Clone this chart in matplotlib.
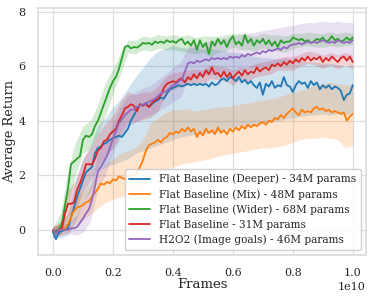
import numpy as np
import matplotlib
matplotlib.use("Agg")
import matplotlib.pyplot as plt
import seaborn as sns

sns.set_theme(style="whitegrid")
plt.rcParams['font.family'] = ['DejaVu Serif']

# x grid for mean curves (frames, in units of 1e10) step 0.01
frames = np.linspace(0.0, 1.0e10, 101)
# x grid for shaded bands, step 0.025
band_frames = np.linspace(0.0, 1.0e10, 41)

labels = ["Flat Baseline (Deeper) - 34M params",
          "Flat Baseline (Mix) - 48M params",
          "Flat Baseline (Wider) - 68M params",
          "Flat Baseline - 31M params",
          "H2O2 (Image goals) - 46M params"]

deeper = [-0.1, -0.35, -0.1, -0.05, 0.0, 0.05, 0.45, 0.8, 1.2, 1.5,
          1.8, 2.1, 2.2, 2.3, 2.8, 3.0, 3.05, 3.15, 3.2, 3.3,
          3.35, 3.4, 3.45, 3.4, 3.55, 3.7, 4.0, 4.2, 4.4, 4.6,
          4.55, 4.65, 4.5, 4.6, 4.7, 4.75, 4.85, 4.8, 5.0, 5.15,
          5.2, 5.25, 5.3, 5.25, 5.3, 5.35, 5.3, 5.35, 5.3, 5.35,
          5.3, 5.35, 5.25, 5.4, 5.3, 5.35, 5.5, 5.55, 5.45, 5.6,
          5.55, 5.45, 5.6, 5.4, 5.5, 5.35, 5.45, 5.3, 5.2, 5.4,
          4.95, 5.35, 5.25, 5.45, 5.2, 5.3, 5.25, 5.6, 5.3, 5.25,
          5.05, 5.3, 5.45, 5.35, 5.4, 5.2, 5.45, 5.3, 5.4, 5.15,
          5.3, 5.2, 5.3, 5.15, 5.25, 5.2, 5.1, 4.75, 4.95, 5.0, 5.3]

mix = [0.0, -0.1, 0.0, 0.0, 0.05, 0.2, 0.45, 0.7, 0.8, 0.85,
       0.9, 1.0, 1.05, 1.2, 1.35, 1.5, 1.7, 1.65, 1.75, 1.7,
       1.85, 1.8, 1.95, 1.9, 1.85, 2.0, 1.95, 2.0, 2.1, 2.3,
       2.55, 2.9, 3.1, 3.15, 3.2, 3.3, 3.2, 3.35, 3.4, 3.55,
       3.5, 3.6, 3.55, 3.7, 3.6, 3.75, 3.6, 3.7, 3.4, 3.6,
       3.45, 3.7, 3.55, 3.65, 3.5, 3.75, 3.55, 3.65, 3.5, 3.7,
       3.6, 3.75, 3.65, 3.8, 3.7, 3.85, 3.75, 3.85, 3.8, 3.9,
       3.95, 3.85, 4.0, 3.95, 4.1, 4.05, 4.2, 4.1, 4.25, 4.35,
       4.45, 4.3, 4.2, 4.4, 4.3, 4.35, 4.3, 4.45, 4.5, 4.4,
       4.45, 4.35, 4.4, 4.3, 4.35, 4.3, 4.25, 4.3, 4.0, 4.15, 4.25]

wider = [-0.1, -0.05, 0.0, 0.25, 0.9, 1.5, 2.4, 2.5, 2.6, 2.7,
         3.3, 3.45, 3.4, 3.5, 3.8, 4.0, 4.3, 4.6, 4.9, 5.2,
         5.45, 5.6, 5.9, 6.3, 6.7, 6.75, 6.65, 6.7, 6.68, 6.75,
         6.85, 6.82, 6.85, 6.78, 6.9, 6.85, 6.9, 6.85, 6.95, 6.88,
         6.92, 6.85, 6.95, 7.0, 6.8, 6.9, 6.75, 6.95, 6.6, 6.95,
         6.7, 6.85, 6.45, 6.9, 6.75, 7.0, 6.8, 6.95, 6.7, 6.95,
         7.1, 6.8, 6.9, 6.75, 7.15, 6.85, 7.0, 6.75, 6.95, 6.85,
         7.0, 6.8, 6.95, 6.75, 6.9, 6.7, 6.95, 6.85, 6.9, 6.9,
         7.05, 7.0, 6.95, 7.0, 6.9, 6.95, 6.85, 6.9, 7.0, 6.95,
         7.05, 6.9, 6.95, 7.1, 6.95, 7.0, 6.9, 6.95, 7.05, 6.95, 7.05]

flat = [-0.05, -0.1, 0.0, 0.05, 0.6, 0.95, 0.95, 1.0, 1.45, 1.7,
        2.0, 2.4, 2.4, 2.4, 2.6, 2.9, 3.0, 3.25, 3.3, 3.5,
        3.6, 3.7, 4.0, 4.2, 4.45, 4.5, 4.6, 4.55, 4.35, 4.6,
        4.55, 4.6, 4.5, 4.65, 4.75, 4.8, 4.95, 5.2, 5.35, 5.4,
        5.45, 5.4, 5.5, 5.55, 5.4, 5.6, 5.5, 5.7, 5.55, 5.75,
        5.6, 5.85, 5.7, 5.95, 5.7, 5.75, 5.6, 5.8, 5.6, 5.75,
        5.55, 5.7, 5.8, 5.65, 5.85, 5.7, 5.8, 5.75, 5.95, 5.8,
        5.9, 5.95, 5.85, 6.05, 6.0, 6.1, 6.0, 6.15, 6.05, 6.2,
        6.1, 6.25, 6.15, 6.3, 6.2, 6.35, 6.2, 6.3, 6.25, 6.35,
        6.15, 6.3, 6.2, 6.35, 6.25, 6.15, 6.3, 6.35, 6.2, 6.35, 6.15]

h2o2 = [0.0, -0.15, 0.0, 0.0, 0.0, 0.0, 0.05, 0.05, 0.1, 0.25,
        0.4, 0.6, 0.75, 1.1, 1.6, 2.15, 2.3, 2.5, 2.7, 3.0,
        3.35, 3.6, 3.9, 4.05, 4.2, 4.3, 4.4, 4.4, 4.5, 4.55,
        4.6, 4.6, 4.7, 4.75, 4.8, 4.9, 5.0, 5.05, 5.1, 5.2,
        5.3, 5.35, 5.45, 5.5, 5.8, 6.1, 6.15, 6.1, 6.2, 6.15,
        6.2, 6.25, 6.2, 6.3, 6.25, 6.3, 6.25, 6.3, 6.25, 6.35,
        6.3, 6.35, 6.3, 6.4, 6.35, 6.45, 6.4, 6.45, 6.5, 6.45,
        6.55, 6.5, 6.6, 6.55, 6.6, 6.65, 6.6, 6.7, 6.65, 6.75,
        6.8, 6.8, 6.85, 6.8, 6.85, 6.9, 6.85, 6.9, 6.85, 6.9,
        6.95, 6.9, 6.85, 6.9, 6.85, 6.95, 6.9, 6.85, 6.9, 6.85, 6.95]

deeper_lo = [-0.3, -0.3, -0.2, 0.3, 1.0, 1.4, 2.1, 2.3, 2.4, 2.5,
             2.6, 2.8, 2.9, 3.0, 3.1, 3.2, 3.3, 3.4, 3.45, 3.5,
             3.5, 3.55, 3.6, 3.7, 3.75, 3.8, 3.8, 3.85, 3.9, 3.95,
             4.0, 4.05, 4.1, 4.15, 4.2, 4.2, 4.25, 4.2, 4.25, 4.2, 4.3]
deeper_hi = [0.1, 0.2, 0.6, 1.8, 2.6, 3.1, 3.8, 4.1, 4.5, 4.8,
             5.2, 5.6, 5.95, 6.3, 6.55, 6.65, 6.75, 6.7, 6.65, 6.7,
             6.6, 6.65, 6.6, 6.55, 6.5, 6.5, 6.4, 6.35, 6.3, 6.3,
             6.25, 6.3, 6.2, 6.2, 6.15, 6.15, 6.1, 6.1, 6.05, 6.0, 6.05]

mix_lo = [-0.2, -0.2, -0.1, 0.2, 0.4, 0.55, 0.8, 1.0, 1.1, 1.2,
          1.3, 1.4, 1.6, 1.9, 2.1, 2.2, 2.3, 2.4, 2.45, 2.5,
          2.55, 2.6, 2.7, 2.75, 2.8, 2.85, 2.9, 2.95, 3.0, 3.0,
          3.05, 3.1, 3.2, 3.3, 3.35, 3.35, 3.4, 3.35, 3.3, 3.0, 3.1]
mix_hi = [0.15, 0.2, 0.6, 1.2, 1.4, 1.7, 2.1, 2.4, 2.6, 2.8,
          2.9, 3.0, 3.3, 3.9, 4.1, 4.3, 4.4, 4.4, 4.45, 4.35,
          4.4, 4.45, 4.5, 4.5, 4.55, 4.6, 4.65, 4.7, 4.75, 4.8,
          4.85, 4.95, 5.05, 5.1, 5.2, 5.3, 5.35, 5.4, 5.35, 5.3, 5.35]

wider_lo = [-0.3, -0.1, 0.9, 2.0, 2.8, 3.0, 3.5, 4.2, 5.0, 5.7,
            6.5, 6.45, 6.6, 6.55, 6.65, 6.6, 6.6, 6.55, 6.5, 6.45,
            6.5, 6.35, 6.5, 6.55, 6.7, 6.6, 6.6, 6.55, 6.65, 6.6,
            6.55, 6.5, 6.65, 6.7, 6.75, 6.7, 6.7, 6.75, 6.7, 6.75, 6.8]
wider_hi = [0.1, 0.6, 2.2, 3.2, 3.8, 4.0, 4.6, 5.4, 5.9, 6.5,
            6.95, 6.95, 7.1, 7.05, 7.15, 7.1, 7.15, 7.1, 7.15, 7.05,
            7.1, 7.1, 7.1, 7.15, 7.2, 7.2, 7.15, 7.1, 7.2, 7.15,
            7.15, 7.1, 7.2, 7.2, 7.25, 7.2, 7.2, 7.25, 7.2, 7.25, 7.2]

flat_lo = [-0.2, -0.2, 0.5, 0.7, 1.4, 1.8, 2.3, 2.7, 3.0, 3.5,
           3.95, 3.95, 4.05, 4.1, 4.35, 4.95, 5.15, 5.25, 5.35, 5.35,
           5.35, 5.55, 5.5, 5.45, 5.3, 5.5, 5.45, 5.6, 5.65, 5.7,
           5.85, 5.85, 5.85, 6.0, 6.1, 6.05, 5.9, 6.05, 5.9, 6.05, 5.9]
flat_hi = [0.1, 0.3, 1.45, 1.8, 2.6, 3.0, 3.5, 3.9, 4.2, 4.7,
           5.05, 4.95, 5.05, 5.05, 5.25, 5.6, 5.75, 5.8, 5.85, 5.9,
           5.85, 6.05, 6.0, 5.95, 5.85, 5.95, 5.95, 6.1, 6.15, 6.2,
           6.3, 6.35, 6.35, 6.45, 6.55, 6.5, 6.4, 6.5, 6.4, 6.5, 6.4]

h2o2_lo = [-0.2, -0.2, -0.15, -0.2, -0.1, 0.3, 1.5, 2.0, 2.8, 3.4,
           3.8, 3.95, 4.1, 4.2, 4.35, 4.5, 4.7, 4.85, 5.5, 5.6,
           5.65, 5.7, 5.75, 5.75, 5.8, 5.85, 5.9, 5.95, 6.0, 6.05,
           6.1, 6.1, 6.2, 6.2, 6.3, 6.3, 6.35, 6.3, 6.35, 6.3, 6.35]
h2o2_hi = [0.1, 0.15, 0.25, 0.5, 1.0, 1.6, 2.8, 3.2, 3.9, 4.5,
           4.9, 5.05, 5.2, 5.3, 5.5, 5.7, 5.95, 6.15, 6.7, 6.8,
           6.85, 6.95, 7.0, 7.05, 7.1, 7.15, 7.2, 7.25, 7.3, 7.35,
           7.4, 7.45, 7.5, 7.55, 7.6, 7.6, 7.65, 7.6, 7.65, 7.6, 7.6]

colors = ["#1f77b4", "#ff7f0e", "#2ca02c", "#d62728", "#9467bd"]

means = [deeper, mix, wider, flat, h2o2]
los = [deeper_lo, mix_lo, wider_lo, flat_lo, h2o2_lo]
his = [deeper_hi, mix_hi, wider_hi, flat_hi, h2o2_hi]

fig = plt.figure(figsize=(3.74, 2.97), dpi=100)
ax = fig.add_axes([0.1024, 0.1414, 0.8762, 0.8306])

for m, lo, hi, c, lab in zip(means, los, his, colors, labels):
    ax.fill_between(band_frames, lo, hi, color=c, alpha=0.2, linewidth=0)
    ax.plot(frames, m, color=c, lw=1.3, label=lab)

ax.set_xlim(-0.049e10, 1.044e10)
ax.set_ylim(-0.93, 8.12)
ax.set_yticks([0, 2, 4, 6, 8])
ax.set_xticks([0, 0.2e10, 0.4e10, 0.6e10, 0.8e10, 1.0e10])
ax.tick_params(labelsize=8, pad=3)
ax.xaxis.get_offset_text().set_fontsize(8)
ax.set_xlabel("Frames", fontsize=9.5, labelpad=0.5)
ax.set_ylabel("Average Return", fontsize=9.3, labelpad=2)
ax.grid(True, color="#dddddd", lw=0.9)
for s in ax.spines.values():
    s.set_edgecolor("#dddddd")

ax.legend(loc="lower right", fontsize=7.6, frameon=True, framealpha=0.9,
          edgecolor="#cccccc", handlelength=2.0, labelspacing=0.45,
          borderpad=0.45)

fig.savefig("out.png", dpi=100)
